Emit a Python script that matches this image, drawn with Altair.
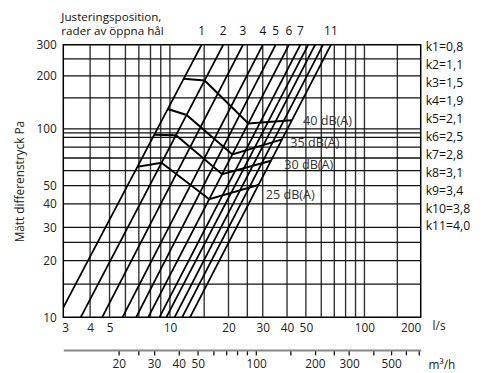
import altair as alt
import pandas as pd

FONT = "Open Sans"

# ---- data ----
k_texts = ["k1=0,8", "k2=1,1", "k3=1,5", "k4=1,9", "k5=2,1", "k6=2,5",
           "k7=2,8", "k8=3,1", "k9=3,4", "k10=3,8", "k11=4,0"]
top_texts = ["1", "2", "3", "4", "5", "6", "7", "", "", "", "11"]
header_text = "Justeringsposition,\nrader av öppna hål"

# the 11 setting lines: flow (l/s) read where each line meets 10 Pa and 300 Pa
line_q_at_10 = [2.77, 3.59, 4.59, 5.80, 6.78, 7.79, 8.86, 9.59, 10.56, 11.55, 12.68]
line_q_at_300 = [14.54, 18.79, 23.75, 30.01, 34.93, 40.89, 46.78, 51.38, 55.76, 61.22, 67.22]
line_dp = [10, 300]

# axis breakpoints of the (hand drawn) log grid
q_domain = [2.94, 10, 100, 200]          # l/s
dp_domain = [10, 100, 300]               # Pa

# sound level curves (vertices on lines 1, 2, 6, 11)
noise_levels = ["40 dB(A)", "35 dB(A)", "30 dB(A)", "25 dB(A)"]
noise_q = {
    "40 dB(A)": [11.77, 15.09, 25.30, 42.36],
    "35 dB(A)": [9.75, 12.18, 20.94, 37.69],
    "30 dB(A)": [8.35, 10.75, 18.56, 33.06],
    "25 dB(A)": [6.88, 9.08, 15.92, 28.50],
}
noise_dp = {
    "40 dB(A)": [192.5, 188.3, 107.1, 111.9],
    "35 dB(A)": [129.5, 119.8, 73.1, 87.9],
    "30 dB(A)": [93.0, 92.5, 57.4, 67.7],
    "25 dB(A)": [62.9, 66.0, 42.3, 50.3],
}
noise_label_q = [48.3, 41.6, 38.7, 31.1]
noise_label_dp = [110.9, 83.8, 64.0, 44.6]

x_grid = [4, 5, 6, 7, 8, 9, 10, 15, 20, 25, 30, 40, 50, 60, 70, 80, 90, 100, 150]
y_grid = [15, 20, 25, 30, 40, 50, 60, 70, 80, 90, 95, 100, 150, 200, 250]

x_labels = [3, 4, 5, 10, 20, 30, 40, 50, 100, 200]
y_labels = [10, 20, 30, 40, 50, 100, 200, 300]
m3h_ticks = [20, 25, 30, 40, 50, 60, 70, 80, 90, 100, 150, 200, 250, 300, 400, 500, 600, 700]
m3h_labels = [20, 30, 40, 50, 100, 200, 300, 500]

# ---- tables ----
line_rows = []
for i, (q0, q1) in enumerate(zip(line_q_at_10, line_q_at_300)):
    line_rows.append({"line": i, "q": q0, "dp": line_dp[0]})
    line_rows.append({"line": i, "q": q1, "dp": line_dp[1]})
lines_df = pd.DataFrame(line_rows)

top_df = pd.DataFrame({"q": line_q_at_300, "t": top_texts})

noise_rows = []
for lvl in noise_levels:
    for i, (q, dp) in enumerate(zip(noise_q[lvl], noise_dp[lvl])):
        noise_rows.append({"lvl": lvl, "i": i, "q": q, "dp": dp})
noise_df = pd.DataFrame(noise_rows)
noise_lab_df = pd.DataFrame({"lvl": noise_levels, "q": noise_label_q, "dp": noise_label_dp})

W, H = 362, 276
xs = alt.Scale(type="log", domain=q_domain, range=[0, 108, 305, W], nice=False)
ys = alt.Scale(type="log", domain=dp_domain, range=[H, 85, 0], nice=False)

x_axis = alt.Axis(values=x_labels, grid=False, ticks=False, domain=False, tickSize=0,
                  labelFlush=True, labelOverlap=False, title=None, labelPadding=5, format="d")
y_axis = alt.Axis(values=y_labels, grid=False, ticks=False, domain=False, tickSize=0,
                  labelOverlap=False, labelFlush=False, title="Mätt differenstryck Pa",
                  labelPadding=7, titlePadding=10, format="d")


def X(f):
    return alt.X(f, scale=xs, axis=x_axis)


def Y(f):
    return alt.Y(f, scale=ys, axis=y_axis)


vgrid = alt.Chart(pd.DataFrame({"q": x_grid})).mark_rule(color="#333", strokeWidth=1.4).encode(
    x=X("q:Q"))
hgrid = alt.Chart(pd.DataFrame({"dp": y_grid})).mark_rule(color="#111", strokeWidth=1.3).encode(
    y=Y("dp:Q"))

klines = alt.Chart(lines_df).mark_line(color="black", strokeWidth=1.8, clip=True).encode(
    x=X("q:Q"), y=Y("dp:Q"), detail="line:N")

noise = alt.Chart(noise_df).mark_line(color="black", strokeWidth=2, clip=True).encode(
    x=X("q:Q"), y=Y("dp:Q"), detail="lvl:N", order="i:Q")

noise_lab = alt.Chart(noise_lab_df).mark_text(align="left", baseline="middle", font=FONT,
                                              fontSize=12.8, color="#333").encode(
    x=X("q:Q"), y=Y("dp:Q"), text="lvl:N")

top_lab = alt.Chart(top_df).mark_text(align="center", baseline="middle", font=FONT,
                                      fontSize=12, color="#111").encode(
    x=X("q:Q"), y=alt.value(-14), text="t:N")

head = alt.Chart(pd.DataFrame({"a": [header_text]})).mark_text(
    align="left", baseline="middle", font=FONT, fontSize=11.8, color="#111",
    lineBreak="\n", lineHeight=14.5).encode(x=alt.value(-2), y=alt.value(-28.5), text="a:N")

units = pd.DataFrame({"u": ["l/s"], "m": ["m³/h"]})
ls_lab = alt.Chart(units).mark_text(align="left", baseline="middle", font=FONT, fontSize=12,
                                    color="#222").encode(x=alt.value(W + 12), y=alt.value(H + 9), text="u:N")
m3_lab = alt.Chart(units).mark_text(align="left", baseline="middle", font=FONT, fontSize=12,
                                    color="#222").encode(x=alt.value(W + 8), y=alt.value(H + 48), text="m:N")

main = alt.layer(vgrid, hgrid, klines, noise, noise_lab, top_lab, head, ls_lab, m3_lab)

m3_domain = [v * 3.6 for v in q_domain]
m3_expr = "indexof(" + str(m3h_labels) + ", datum.value) >= 0 ? format(datum.value, 'd') : ''"
m3 = alt.Chart(pd.DataFrame({"m3h": [m3_domain[0], m3_domain[-1]]})).mark_point(opacity=0).encode(
    x=alt.X("m3h:Q", scale=alt.Scale(type="log", domain=m3_domain, range=[0, 108, 305, W], nice=False),
            axis=alt.Axis(orient="bottom", offset=33, values=m3h_ticks, labelExpr=m3_expr,
                          grid=False, ticks=True, tickSize=5, tickColor="#111", tickWidth=1.3,
                          domain=True, domainColor="#888", domainWidth=2,
                          labelOverlap=False, labelFlush=False, labelPadding=4, title=None)),
    y=alt.value(0))

klab = alt.Chart(pd.DataFrame({"t": k_texts})).mark_text(align="left", baseline="middle", font=FONT,
                                                         fontSize=12.4, color="#111").encode(
    x=alt.value(W + 5),
    y=alt.Y("t:N", sort=None, scale=alt.Scale(range=[2, 184], padding=0), axis=None),
    text="t:N")

chart = alt.layer(main, m3, klab).resolve_scale(x="independent", y="independent").properties(
    width=W, height=H,
    autosize=alt.AutoSizeParams(type="none"),
    padding={"left": 56, "top": 35, "right": 57, "bottom": 52},
).configure_view(stroke="black", strokeWidth=1.5).configure_axis(
    labelFont=FONT, titleFont=FONT, labelFontSize=12, titleFontSize=12,
    labelColor="#222", titleColor="#222", titleFontWeight="normal")

chart.save("out.html", embed_options={"renderer": "svg", "actions": False})
